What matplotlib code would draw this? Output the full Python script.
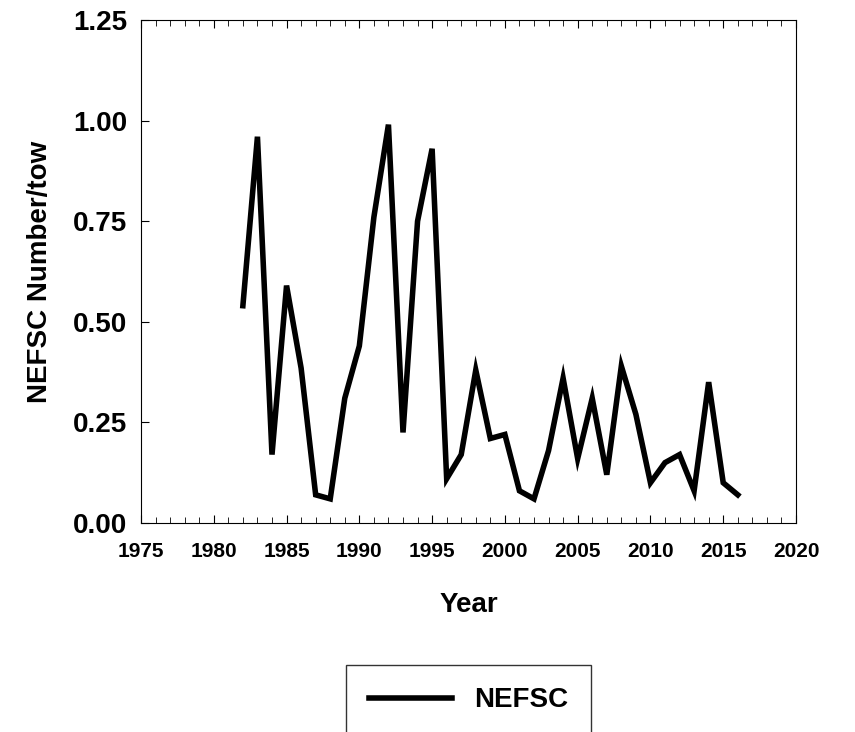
import numpy as np
import matplotlib.pyplot as plt
from matplotlib.ticker import MultipleLocator

years = list(range(1982, 2017))
nefsc = [0.54, 0.96, 0.17, 0.59, 0.385, 0.07, 0.06, 0.31, 0.44, 0.76,
         0.99, 0.225, 0.75, 0.93, 0.11, 0.17, 0.38, 0.21, 0.22, 0.08,
         0.06, 0.18, 0.36, 0.16, 0.31, 0.12, 0.39, 0.27, 0.10, 0.15,
         0.17, 0.08, 0.35, 0.10, 0.07]

plt.rcParams['font.family'] = ['Liberation Sans', 'DejaVu Sans']
plt.rcParams['font.weight'] = 'bold'

fig = plt.figure(figsize=(8.55, 7.32), dpi=100)
ax = fig.add_axes([141/855, 1-523/732, 655/855, 503/732])
ax.plot(years, nefsc, color='black', lw=4, label='NEFSC', solid_joinstyle='miter')
ax.set_xlim(1975, 2020)
ax.set_ylim(0, 1.25)
ax.set_xticks(range(1975, 2021, 5))
ax.set_yticks([0, 0.25, 0.5, 0.75, 1.0, 1.25])
ax.set_yticklabels(['0.00', '0.25', '0.50', '0.75', '1.00', '1.25'], fontsize=20, fontweight='bold')
ax.set_xticklabels([str(y) for y in range(1975, 2021, 5)], fontsize=15, fontweight='bold')
ax.xaxis.set_minor_locator(MultipleLocator(1))
ax.tick_params(which='both', direction='in', top=True, right=False)
ax.tick_params(which='major', length=6)
ax.tick_params(which='minor', length=4)
ax.tick_params(axis='x', pad=14)
ax.tick_params(axis='y', pad=10)
ax.set_xlabel('Year', fontsize=20, fontweight='bold', labelpad=22)
ax.set_ylabel('NEFSC Number/tow', fontsize=20, fontweight='bold', labelpad=14)
leg = ax.legend(loc='upper center', bbox_to_anchor=(0.5, -0.255), fontsize=20,
                frameon=True, fancybox=False, edgecolor='black', handlelength=3,
                borderpad=0.8)
leg.get_frame().set_linewidth(1)
fig.savefig('out.png', dpi=100)
